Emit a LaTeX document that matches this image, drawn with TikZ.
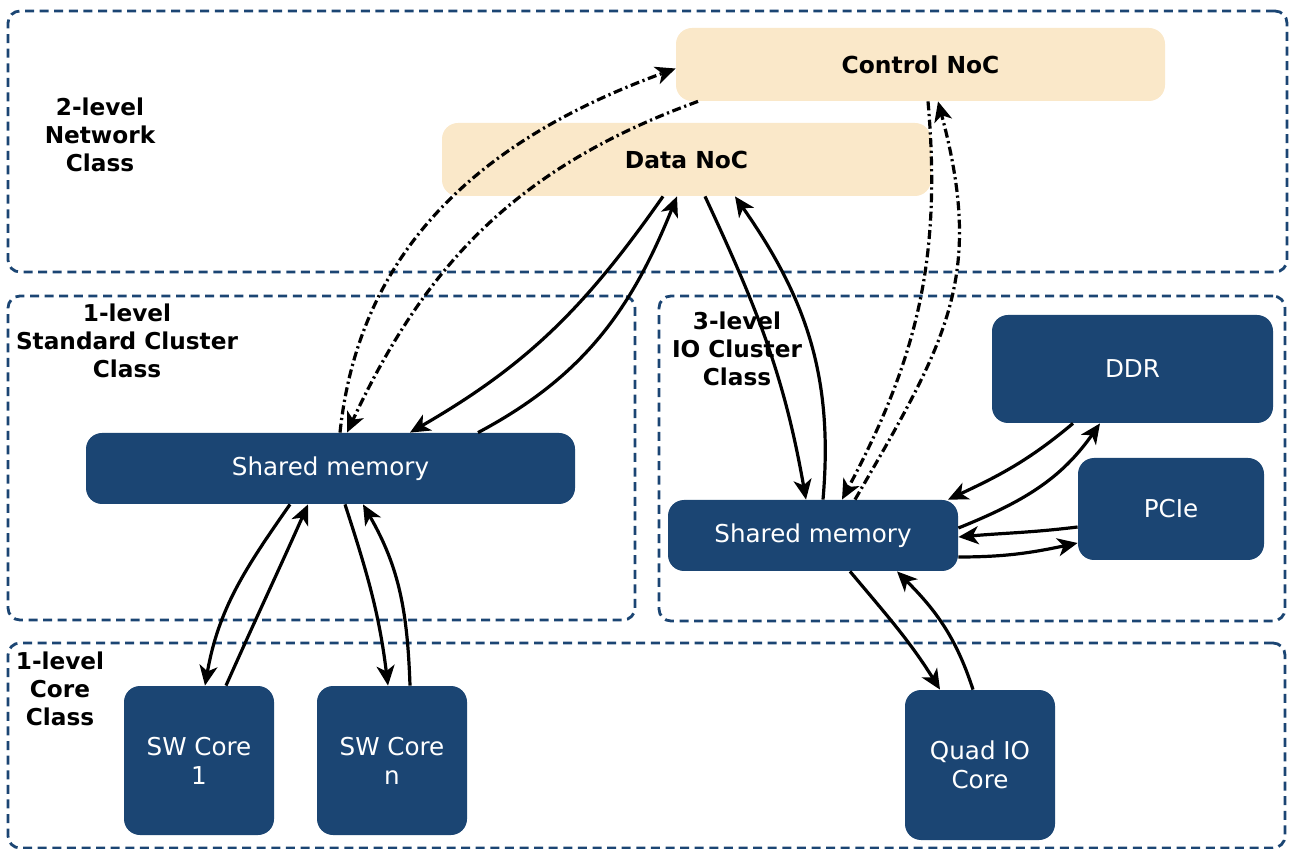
\documentclass[tikz,border=0pt]{standalone}
\usepackage{fontspec}
\setmainfont{DejaVu Sans}
\usepackage{xcolor}
\usepackage{tikz}
\usetikzlibrary{arrows.meta}
\definecolor{navy}{RGB}{27, 69, 115}
\definecolor{sand}{RGB}{250, 232, 201}

\begin{document}
\begin{tikzpicture}[
    x=0.5pt, y=-0.5pt,
    group/.style={draw=navy, line width=1.4pt, dash pattern=on 4.5pt off 2.8pt, rounded corners=6pt, inner sep=0pt},
    noc/.style={fill=sand, rounded corners=8pt, minimum width=244.5pt, minimum height=36.5pt, font=\fontsize{11.7}{14}\selectfont\bfseries},
    unit/.style={fill=navy, text=white, rounded corners=8pt, align=center, font=\fontsize{12.3}{14.5}\selectfont},
    level/.style={align=center, font=\fontsize{11.6}{14}\selectfont\bfseries},
    arrow/.style={-{Stealth[length=10pt, width=9pt, inset=2.8pt]}, line width=1.6pt},
    ctrl/.style={arrow, dash pattern=on 4.5pt off 1.8pt on 1.1pt off 1.8pt}
]
    \useasboundingbox (0,0) rectangle (1290,849);

    % Class boxes
    \node[group, minimum width=639.5pt, minimum height=130.5pt] (netcls) at (647.5,141.5) {};
    \node[group, minimum width=313.5pt, minimum height=162pt] (stdcls) at (321.5,458) {};
    \node[group, minimum width=313pt, minimum height=162.5pt] (iocls) at (972,458.5) {};
    \node[group, minimum width=638.5pt, minimum height=102.5pt] (corecls) at (646.5,745.5) {};

    % Class labels
    \node[level] (netlbl) at (100,135) {2-level\\Network\\Class};
    \node[level] (stdlbl) at (127,341) {1-level\\Standard Cluster\\Class};
    \node[level] (iolbl) at (737,349) {3-level\\IO Cluster\\Class};
    \node[level] (corelbl) at (60,689) {1-level\\Core\\Class};

    % Network nodes
    \node[noc] (cnoc) at (920.5,64.5) {Control NoC};
    \node[noc] (dnoc) at (686.5,159.5) {Data NoC};

    % Cluster nodes
    \node[unit, minimum width=244.5pt, minimum height=35.5pt] (ssm) at (330.5,468.5) {Shared memory};
    \node[unit, minimum width=145pt, minimum height=35.5pt] (iosm) at (813,535.5) {Shared memory};
    \node[unit, minimum width=140.5pt, minimum height=54pt] (ddr) at (1132.5,369) {DDR};
    \node[unit, minimum width=93pt, minimum height=51pt] (pcie) at (1171,509) {PCIe};

    % Core nodes
    \node[unit, minimum width=75pt, minimum height=74.5pt] (core1) at (199,760.5) {SW Core\\1};
    \node[unit, minimum width=75pt, minimum height=74.5pt] (coren) at (392,760.5) {SW Core\\n};
    \node[unit, minimum width=75pt, minimum height=75pt] (quad) at (980,765) {Quad IO\\Core};

    % Control paths
    \draw[ctrl] ([xshift=4.75pt]ssm.north) to[out=84, in=200] ([yshift=-2pt]cnoc.west);
    \draw[ctrl] ([xshift=-111.25pt]cnoc.south) to[out=200, in=65] ([xshift=8.25pt]ssm.north);
    \draw[ctrl] ([xshift=3.75pt]cnoc.south) to[out=-85, in=62] ([xshift=14.5pt]iosm.north);
    \draw[ctrl] ([xshift=21pt]iosm.north) to[out=60, in=-75, looseness=1.15] ([xshift=8.75pt]cnoc.south);

    % Data paths
    \draw[arrow] ([xshift=-11.75pt]dnoc.south) to[out=-125, in=30] ([xshift=39.75pt]ssm.north);
    \draw[arrow] ([xshift=73.75pt]ssm.north) to[out=28, in=-112] ([xshift=-4.75pt]dnoc.south);
    \draw[arrow] ([xshift=9.25pt]dnoc.south) to[out=-65, in=100] ([xshift=-3.5pt]iosm.north);
    \draw[arrow] ([xshift=5pt]iosm.north) to[out=85, in=-55] ([xshift=24.25pt]dnoc.south);

    % IO cluster paths
    \draw[arrow] ([xshift=-29.75pt]ddr.south) to[out=-140, in=25] ([xshift=67.5pt]iosm.north);
    \draw[arrow] ([yshift=3.75pt]iosm.east) to[out=22, in=-125] ([xshift=-16.25pt]ddr.south);
    \draw[arrow] ([yshift=-9pt]pcie.west) to[out=187, in=5] ([yshift=-0.75pt]iosm.east);
    \draw[arrow] ([yshift=-10.75pt]iosm.east) to[out=0, in=192] ([yshift=-17pt]pcie.west);

    % Core paths
    \draw[arrow] ([xshift=-20.25pt]ssm.south) to[out=-125, in=80] ([xshift=3pt]core1.north);
    \draw[arrow] ([xshift=13.5pt]core1.north) to[out=66, in=-114] ([xshift=-11.25pt]ssm.south);
    \draw[arrow] ([xshift=7.25pt]ssm.south) to[out=-72, in=97] ([xshift=-2pt]coren.north);
    \draw[arrow] ([xshift=9pt]coren.north) to[out=92, in=-60] ([xshift=16.25pt]ssm.south);
    \draw[arrow] ([xshift=18.5pt]iosm.south) to[out=-50, in=122] ([xshift=-20pt]quad.north);
    \draw[arrow] ([xshift=-3.5pt]quad.north) to[out=108, in=-45] ([xshift=42pt]iosm.south);
\end{tikzpicture}
\end{document}
